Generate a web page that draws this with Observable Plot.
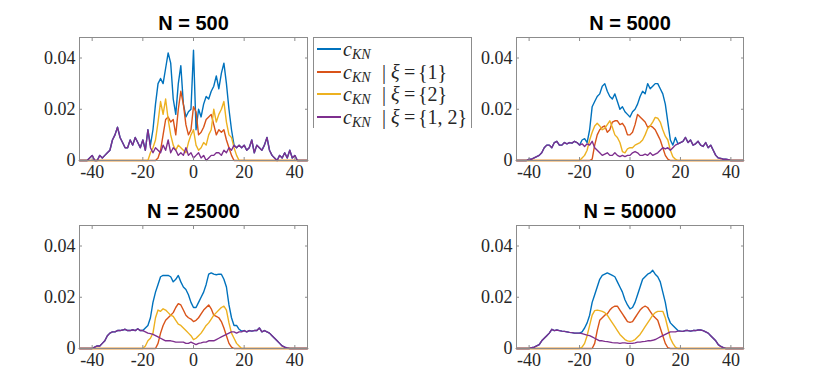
<!DOCTYPE html>
<html>
<head>
<meta charset="utf-8">
<script src="https://cdn.jsdelivr.net/npm/d3@7"></script>
<script src="https://cdn.jsdelivr.net/npm/@observablehq/plot@0.6"></script>
<style>
  html, body { margin: 0; padding: 0; background: #fff; }
  #fig { position: relative; width: 822px; height: 392px; overflow: hidden; background: #fff; }
  .panel { position: absolute; }
  .panel g[aria-label="x-axis tick label"] text,
  .panel g[aria-label="y-axis tick label"] text,
  .panel g[aria-label="x-axis tick label"],
  .panel g[aria-label="y-axis tick label"] { font-family: "Liberation Serif", "DejaVu Serif", serif !important; }
  #legend { position: absolute; left: 313px; top: 37px; width: 159px; height: 91px;
    border: 1px solid #8c8c8c; border-bottom: none; background: #fff; box-sizing: border-box;
    font-family: "Liberation Serif", "DejaVu Serif", serif; font-size: 20px; color: #262626; }
  .row { position: absolute; left: 0; width: 100%; height: 0; }
  .row > * { position: absolute; top: 0; transform: translateY(-50%); white-space: nowrap; line-height: 1; }
  .row .sw { left: 3px; width: 24px; height: 2px; transform: translateY(-1px); }
  .row .c { left: 29px; font-style: italic; }
  .row .sub { left: 38px; font-style: italic; font-size: 14px; transform: translateY(-10%); }
  .row .bar { left: 68px; }
  .row .xi { left: 77px; font-style: italic; }
  .row .eq { left: 90px; }
  .row .set { left: 104px; }
</style>
</head>
<body>
<div id="fig"></div>
<script>
// x grid of the density estimates (-45 ... 45, step 1)
const xs = d3.range(-45, 46, 1);
const xTicks = [-40, -20, 0, 20, 40];
const yTicks = [0, 0.02, 0.04];
const colors = ["#0072BD", "#D95319", "#EDB120", "#7E2F8E"];
const titles = ["N = 500", "N = 5000", "N = 25000", "N = 50000"];
const legendSets = [null, "{1}", "{2}", "{1, 2}"];

// ---------- N = 500 ----------
const p500 = [
  0,0,0,0,0.001,0.002,0,0,0.002,0.001,
  0.002,0.003,0.004,0.008,0.01,0.013,0.009,0.007,0.005,0.005,
  0.008,0.006,0.009,0.007,0.005,0.008,0.004,0.012,0.005,0.003,
  0.005,0.004,0.003,0.006,0.004,0.008,0.003,0.005,0.004,0.002,
  0.003,0.002,0.005,0.002,0.003,0.001,0.002,0.003,0.001,0.002,
  0,0.001,0.002,0.002,0.003,0.003,0.002,0.004,0.003,0.005,
  0.004,0.006,0.005,0.006,0.005,0.006,0.004,0.005,0.008,0.003,
  0.006,0.005,0.004,0.006,0.009,0.004,0.002,0.001,0,0.002,
  0.001,0.003,0.001,0.004,0.001,0.002,0,0,0,0,
  0];
const b500 = [
  0,0,0,0,0.001,0.002,0,0,0.002,0.001,
  0.002,0.003,0.004,0.008,0.01,0.013,0.009,0.007,0.005,0.005,
  0.008,0.006,0.009,0.007,0.005,0.008,0.004,0.012,0.006,0.012,
  0.022,0.03,0.032,0.03,0.036,0.042,0.038,0.024,0.018,0.03,
  0.037,0.022,0.017,0.019,0.02,0.043,0.012,0.02,0.017,0.022,
  0.025,0.024,0.027,0.029,0.033,0.028,0.034,0.038,0.03,0.02,
  0.012,0.006,0.005,0.006,0.005,0.006,0.004,0.005,0.008,0.003,
  0.006,0.005,0.004,0.006,0.009,0.004,0.002,0.001,0,0.002,
  0.001,0.003,0.001,0.004,0.001,0.002,0,0,0,0,
  0];
const r500 = [
  0,0,0,0,0,0,0,0,0,0,
  0,0,0,0,0,0,0,0,0,0,
  0,0,0,0,0,0,0,0,0,0,
  0,0.001,0.004,0.01,0.016,0.017,0.015,0.016,0.01,0.02,
  0.027,0.022,0.014,0.01,0.012,0.021,0.019,0.01,0.011,0.013,
  0.016,0.017,0.018,0.014,0.01,0.012,0.011,0.012,0.008,0.005,
  0.002,0,0,0,0,0,0,0,0,0,
  0,0,0,0,0,0,0,0,0,0,
  0,0,0,0,0,0,0,0,0,0,
  0];
const y500 = [
  0,0,0,0,0,0,0,0,0,0,
  0,0,0,0,0,0,0,0,0,0,
  0,0,0,0,0,0,0,0,0.003,0.005,
  0.008,0.015,0.023,0.018,0.024,0.016,0.01,0.006,0.004,0.006,
  0.005,0.004,0.003,0.007,0.01,0.012,0.006,0.004,0.005,0.007,
  0.006,0.01,0.012,0.02,0.015,0.018,0.02,0.023,0.015,0.01,
  0.009,0.005,0.002,0,0,0,0,0,0,0,
  0,0,0,0,0,0,0,0,0,0,
  0,0,0,0,0,0,0,0,0,0,
  0];

// ---------- N = 5000 ----------
const p5000 = [
  0,0,0,0,0,0.0005,0.0005,0.001,0.0015,0.002,
  0.003,0.005,0.006,0.006,0.005,0.007,0.0075,0.006,0.006,0.007,
  0.0065,0.007,0.0068,0.0075,0.007,0.006,0.0065,0.0055,0.0065,0.006,
  0.0075,0.005,0.004,0.003,0.002,0.0025,0.003,0.002,0.002,0.003,
  0.002,0.0015,0.002,0.0015,0.002,0.002,0.003,0.0035,0.003,0.002,
  0.002,0.0025,0.002,0.003,0.002,0.0025,0.003,0.004,0.005,0.0045,
  0.005,0.004,0.005,0.006,0.0065,0.007,0.0075,0.009,0.007,0.008,
  0.006,0.0065,0.0075,0.006,0.0055,0.007,0.005,0.006,0.004,0.002,
  0.001,0.0008,0.0005,0.0005,0.0003,0,0,0,0,0,
  0];
const b5000 = [
  0,0,0,0,0,0.0005,0.0005,0.001,0.0015,0.002,
  0.003,0.005,0.006,0.006,0.005,0.007,0.0075,0.006,0.006,0.007,
  0.0065,0.007,0.0068,0.0075,0.007,0.006,0.008,0.0085,0.007,0.012,
  0.021,0.023,0.025,0.026,0.029,0.03,0.027,0.025,0.024,0.026,
  0.023,0.02,0.021,0.019,0.018,0.017,0.019,0.02,0.022,0.025,
  0.027,0.026,0.03,0.028,0.029,0.03,0.03,0.028,0.026,0.022,
  0.015,0.008,0.006,0.009,0.0065,0.007,0.0075,0.009,0.007,0.008,
  0.006,0.0065,0.0075,0.006,0.0055,0.007,0.005,0.006,0.004,0.002,
  0.001,0.0008,0.0005,0.0005,0.0003,0,0,0,0,0,
  0];
const r5000 = [
  0,0,0,0,0,0,0,0,0,0,
  0,0,0,0,0,0,0,0,0,0,
  0,0,0,0,0,0,0,0,0,0,
  0.0005,0.006,0.01,0.012,0.013,0.0135,0.011,0.012,0.015,0.0155,
  0.0155,0.014,0.0145,0.013,0.01,0.01,0.011,0.014,0.018,0.017,
  0.016,0.015,0.013,0.0135,0.013,0.012,0.01,0.008,0.005,0.002,
  0.0005,0,0,0,0,0,0,0,0,0,
  0,0,0,0,0,0,0,0,0,0,
  0,0,0,0,0,0,0,0,0,0,
  0];
const y5000 = [
  0,0,0,0,0,0,0,0,0,0,
  0,0,0,0,0,0,0,0,0,0,
  0,0,0,0,0,0,0.001,0.002,0.004,0.008,
  0.011,0.0135,0.0145,0.0135,0.012,0.0125,0.014,0.0155,0.013,0.01,
  0.009,0.007,0.0035,0.003,0.0045,0.005,0.005,0.006,0.0065,0.007,
  0.008,0.01,0.0125,0.0135,0.015,0.0168,0.0165,0.015,0.012,0.0095,
  0.008,0.004,0.0015,0.0005,0,0,0,0,0,0,
  0,0,0,0,0,0,0,0,0,0,
  0,0,0,0,0,0,0,0,0,0,
  0];

// ---------- N = 25000 ----------
const p25000 = [
  0,0,0,0,0,0,0.0005,0.001,0.001,0.002,
  0.003,0.005,0.006,0.0065,0.0065,0.007,0.007,0.0072,0.0075,0.007,
  0.007,0.0073,0.007,0.0077,0.007,0.007,0.0065,0.006,0.0058,0.0055,
  0.005,0.0045,0.004,0.0035,0.003,0.003,0.003,0.0028,0.0025,0.0025,
  0.0025,0.0025,0.002,0.002,0.0025,0.002,0.0015,0.002,0.0022,0.0025,
  0.0025,0.003,0.003,0.003,0.0035,0.004,0.0045,0.005,0.0055,0.006,
  0.0065,0.0065,0.006,0.0065,0.0065,0.007,0.0065,0.007,0.0068,0.007,
  0.007,0.008,0.0065,0.007,0.0065,0.006,0.005,0.004,0.003,0.002,
  0.001,0.0005,0.0002,0,0,0,0,0,0,0,
  0];
const b25000 = [
  0,0,0,0,0,0,0.0005,0.001,0.001,0.002,
  0.003,0.005,0.006,0.0065,0.0065,0.007,0.007,0.0072,0.0075,0.007,
  0.007,0.0073,0.007,0.0077,0.007,0.007,0.008,0.009,0.012,0.018,
  0.022,0.025,0.028,0.0285,0.0285,0.0285,0.028,0.026,0.027,0.0285,
  0.026,0.024,0.023,0.021,0.018,0.016,0.016,0.018,0.02,0.022,
  0.025,0.029,0.0295,0.029,0.0288,0.029,0.029,0.027,0.024,0.017,
  0.012,0.009,0.009,0.0075,0.0068,0.007,0.0065,0.007,0.0068,0.007,
  0.007,0.008,0.0065,0.007,0.0065,0.006,0.005,0.004,0.003,0.002,
  0.001,0.0005,0.0002,0,0,0,0,0,0,0,
  0];
const r25000 = [
  0,0,0,0,0,0,0,0,0,0,
  0,0,0,0,0,0,0,0,0,0,
  0,0,0,0,0,0,0,0,0,0,
  0,0.002,0.006,0.009,0.011,0.012,0.013,0.014,0.016,0.0175,
  0.017,0.015,0.013,0.012,0.0115,0.0105,0.011,0.012,0.0135,0.015,
  0.016,0.017,0.0155,0.013,0.0125,0.012,0.0105,0.008,0.005,0.002,
  0.0005,0,0,0,0,0,0,0,0,0,
  0,0,0,0,0,0,0,0,0,0,
  0,0,0,0,0,0,0,0,0,0,
  0];
const y25000 = [
  0,0,0,0,0,0,0,0,0,0,
  0,0,0,0,0,0,0,0,0,0,
  0,0,0,0,0,0,0.001,0.003,0.004,0.006,
  0.012,0.015,0.0145,0.0155,0.015,0.014,0.013,0.0125,0.011,0.0095,
  0.009,0.008,0.007,0.006,0.005,0.0035,0.004,0.005,0.006,0.0075,
  0.009,0.01,0.0115,0.013,0.014,0.015,0.016,0.0165,0.015,0.01,
  0.006,0.004,0.002,0.001,0,0,0,0,0,0,
  0,0,0,0,0,0,0,0,0,0,
  0,0,0,0,0,0,0,0,0,0,
  0];

// ---------- N = 50000 ----------
const p50000 = [
  0,0,0,0,0,0,0.0003,0.0005,0.001,0.0015,
  0.003,0.004,0.005,0.006,0.0075,0.007,0.0072,0.007,0.0068,0.0067,
  0.0065,0.0063,0.0062,0.006,0.006,0.006,0.0058,0.0055,0.0052,0.005,
  0.0045,0.004,0.0035,0.003,0.003,0.0028,0.0027,0.0025,0.0023,0.0022,
  0.0022,0.002,0.0022,0.0022,0.002,0.002,0.002,0.0022,0.0025,0.0025,
  0.0027,0.0028,0.003,0.003,0.0032,0.0035,0.004,0.0045,0.005,0.0055,
  0.006,0.0065,0.0065,0.0065,0.0068,0.0068,0.0067,0.007,0.007,0.0068,
  0.007,0.007,0.0072,0.0072,0.007,0.0065,0.006,0.005,0.004,0.003,
  0.0015,0.0008,0.0003,0,0,0,0,0,0,0,
  0];
const b50000 = [
  0,0,0,0,0,0,0.0003,0.0005,0.001,0.0015,
  0.003,0.004,0.005,0.006,0.0075,0.007,0.0072,0.007,0.0068,0.0067,
  0.0065,0.0063,0.0062,0.006,0.006,0.006,0.0065,0.008,0.01,0.013,
  0.018,0.021,0.024,0.027,0.0285,0.029,0.0295,0.029,0.0285,0.028,
  0.026,0.024,0.022,0.019,0.017,0.0155,0.016,0.018,0.021,0.024,
  0.027,0.028,0.029,0.0295,0.0305,0.029,0.028,0.026,0.022,0.018,
  0.0125,0.01,0.009,0.008,0.007,0.0068,0.0067,0.007,0.007,0.0068,
  0.007,0.007,0.0072,0.0072,0.007,0.0065,0.006,0.005,0.004,0.003,
  0.0015,0.0008,0.0003,0,0,0,0,0,0,0,
  0];
const r50000 = [
  0,0,0,0,0,0,0,0,0,0,
  0,0,0,0,0,0,0,0,0,0,
  0,0,0,0,0,0,0,0,0,0,
  0,0.002,0.007,0.011,0.012,0.013,0.0135,0.015,0.016,0.0165,
  0.0165,0.015,0.0135,0.012,0.0105,0.0102,0.0105,0.012,0.0135,0.015,
  0.016,0.0165,0.016,0.0145,0.013,0.012,0.011,0.008,0.005,0.002,
  0.0003,0,0,0,0,0,0,0,0,0,
  0,0,0,0,0,0,0,0,0,0,
  0,0,0,0,0,0,0,0,0,0,
  0];
const y50000 = [
  0,0,0,0,0,0,0,0,0,0,
  0,0,0,0,0,0,0,0,0,0,
  0,0,0,0,0,0,0.0005,0.002,0.005,0.009,
  0.013,0.0148,0.015,0.0148,0.0145,0.014,0.013,0.0115,0.01,0.0085,
  0.007,0.0055,0.0045,0.0035,0.003,0.0028,0.003,0.0035,0.0045,0.0055,
  0.007,0.0085,0.01,0.0115,0.013,0.014,0.0145,0.0145,0.0145,0.012,
  0.008,0.004,0.002,0.0005,0,0,0,0,0,0,
  0,0,0,0,0,0,0,0,0,0,
  0,0,0,0,0,0,0,0,0,0,
  0];

const panelsData = [
  [b500, r500, y500, p500],
  [b5000, r5000, y5000, p5000],
  [b25000, r25000, y25000, p25000],
  [b50000, r50000, y50000, p50000]
];

// layout of the 2x2 grid (SVG boxes + margins)
const layout = [
  {left: 0,   top: 0,   ml: 79,  mr: 104, mt: 37, mb: 36},
  {left: 411, top: 0,   ml: 105, mr: 79,  mt: 37, mb: 36},
  {left: 0,   top: 196, ml: 79,  mr: 104, mt: 29, mb: 44},
  {left: 411, top: 196, ml: 105, mr: 79,  mt: 29, mb: 44}
];

const fig = document.getElementById("fig");
const axisColor = "#262626";
const boxColor = "#8c8c8c";
const serif = "Liberation Serif, DejaVu Serif, serif";

panelsData.forEach((series, pi) => {
  const L = layout[pi];
  const lineMarks = series.map((vals, si) =>
    Plot.lineY(vals.map((v, i) => ({x: xs[i], y: v})), {
      x: "x", y: "y", stroke: colors[si], strokeWidth: 1.4, strokeLinejoin: "round"
    })
  );
  const chart = Plot.plot({
    width: 411, height: 196,
    marginLeft: L.ml, marginRight: L.mr, marginTop: L.mt, marginBottom: L.mb,
    style: {background: "transparent", overflow: "visible"},
    x: {domain: [-45, 45], ticks: xTicks, label: null},
    y: {domain: [0, 0.048], ticks: yTicks, label: null},
    marks: [
      ...lineMarks,
      Plot.frame({stroke: boxColor, strokeWidth: 1}),
      Plot.axisX(xTicks, {anchor: "bottom", tickSize: -3, stroke: boxColor, tickFormat: () => "", label: null}),
      Plot.axisX(xTicks, {anchor: "top", tickSize: -3, stroke: boxColor, tickFormat: () => "", label: null}),
      Plot.axisY(yTicks, {anchor: "left", tickSize: -3, stroke: boxColor, tickFormat: () => "", label: null}),
      Plot.axisY(yTicks, {anchor: "right", tickSize: -3, stroke: boxColor, tickFormat: () => "", label: null}),
      Plot.axisX(xTicks, {anchor: "bottom", tickSize: 0, tickPadding: 5, tickFormat: d => String(d),
        fontSize: 18, fontFamily: serif, fill: axisColor, label: null}),
      Plot.axisY(yTicks, {anchor: "left", tickSize: 0, tickPadding: 4, tickFormat: d => d === 0 ? "0" : d.toFixed(2),
        fontSize: 18, fontFamily: serif, fill: axisColor, label: null}),
      Plot.text([titles[pi]], {frameAnchor: "top", lineAnchor: "middle", dy: -14, text: d => d, fontSize: 20,
        fontWeight: "bold", fontFamily: "Liberation Sans, Arial, sans-serif", fill: "#000"})
    ]
  });
  chart.classList.add("panel");
  chart.style.left = L.left + "px";
  chart.style.top = L.top + "px";
  fig.appendChild(chart);
});

// legend (MATLAB-style box overlapping the grid)
const legend = document.createElement("div");
legend.id = "legend";
legendSets.forEach((set, i) => {
  const row = document.createElement("div");
  row.className = "row";
  row.style.top = (11 + i * 22.6) + "px";
  let html = `<span class="sw" style="background:${colors[i]}"></span>` +
             `<span class="c">c</span><span class="sub">KN</span>`;
  if (set) html += `<span class="bar">|</span><span class="xi">ξ</span><span class="eq">=</span><span class="set">${set}</span>`;
  row.innerHTML = html;
  legend.appendChild(row);
});
fig.appendChild(legend);
</script>
</body>
</html>
